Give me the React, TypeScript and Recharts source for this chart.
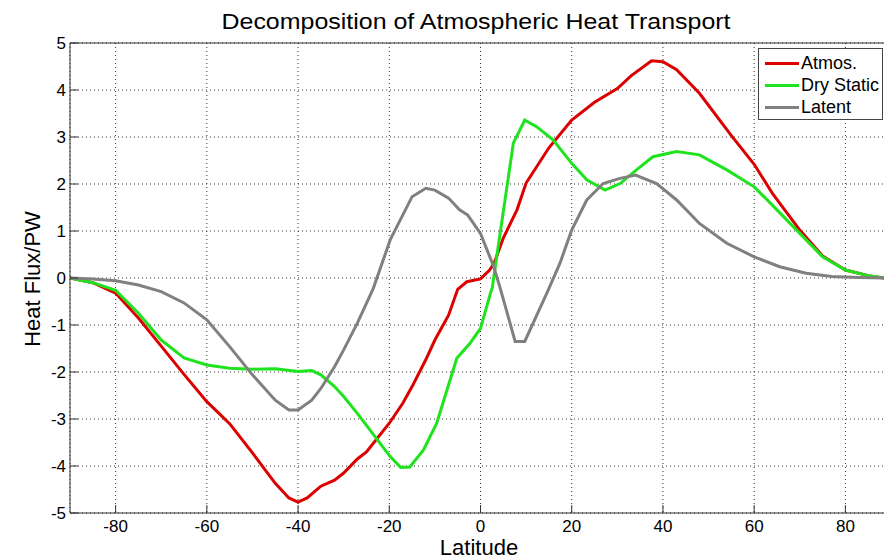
import { LineChart, Line, XAxis, YAxis, CartesianGrid, Legend, ReferenceLine } from 'recharts';

const LAT_TICKS = [-80, -60, -40, -20, 0, 20, 40, 60, 80];
const FLUX_TICKS = [-5, -4, -3, -2, -1, 0, 1, 2, 3, 4, 5];

const atmosLat = [-90, -85, -80, -75, -70, -65, -60, -55, -50, -45, -42, -40, -38, -35, -32, -30, -27, -25, -20, -17, -15, -12, -10, -7, -5, -3, 0, 2, 3, 5, 8, 10, 15, 20, 25, 30, 33, 37.5, 40, 43, 48, 55, 60, 64, 70, 75, 80, 85, 88.5];
const atmosFlux = [0, -0.1, -0.32, -0.85, -1.45, -2.05, -2.63, -3.1, -3.72, -4.37, -4.68, -4.77, -4.68, -4.43, -4.3, -4.15, -3.85, -3.7, -3.09, -2.66, -2.31, -1.74, -1.32, -0.79, -0.24, -0.08, -0.02, 0.17, 0.32, 0.85, 1.45, 2.02, 2.77, 3.36, 3.74, 4.03, 4.3, 4.62, 4.6, 4.43, 3.93, 3.03, 2.42, 1.8, 1.02, 0.47, 0.17, 0.05, 0];

const dryLat = [-90, -85, -80, -75, -70, -65, -60, -55, -50, -45, -40, -37, -35, -32, -30, -27, -22, -19.8, -17.5, -15.5, -12.5, -9.6, -5.2, -2.3, 0, 2.2, 2.6, 3.7, 7.2, 9.7, 12.3, 15.9, 20, 23.3, 27.3, 30.6, 34.2, 37.8, 43, 48, 54, 60, 65, 70, 75, 80, 85, 88.5];
const dryFlux = [0, -0.1, -0.26, -0.75, -1.32, -1.7, -1.85, -1.92, -1.94, -1.93, -1.99, -1.97, -2.06, -2.31, -2.52, -2.88, -3.52, -3.8, -4.03, -4.02, -3.66, -3.09, -1.71, -1.39, -1.07, -0.32, -0.2, 0.55, 2.87, 3.36, 3.22, 2.94, 2.44, 2.09, 1.87, 2.01, 2.3, 2.58, 2.69, 2.62, 2.3, 1.94, 1.45, 0.95, 0.45, 0.17, 0.05, 0];

const latentLat = [-90, -85, -80, -75, -70, -65, -60, -55, -50, -45, -42, -40, -37, -35, -32, -30, -27, -23.5, -19.8, -15, -12, -10, -7, -4.6, -2.8, 0, 2.9, 4.3, 7.6, 9.7, 14.5, 17.4, 20, 23.3, 26.9, 30.6, 34, 38.6, 43, 48, 54, 60, 65.6, 71.4, 77, 83, 88.5];
const latentFlux = [0, -0.02, -0.06, -0.15, -0.29, -0.53, -0.89, -1.46, -2.06, -2.6, -2.81, -2.81, -2.6, -2.35, -1.89, -1.53, -0.96, -0.22, 0.81, 1.73, 1.91, 1.87, 1.7, 1.45, 1.34, 0.95, 0.24, -0.21, -1.35, -1.35, -0.33, 0.31, 1.02, 1.66, 2.01, 2.12, 2.19, 2.01, 1.66, 1.16, 0.74, 0.45, 0.24, 0.1, 0.03, 0.01, 0];

const series = [
  { name: 'Atmos.', color: '#DC0000', data: atmosLat.map((lat, i) => ({ lat, v: atmosFlux[i] })) },
  { name: 'Dry Static', color: '#1EE31E', data: dryLat.map((lat, i) => ({ lat, v: dryFlux[i] })) },
  { name: 'Latent', color: '#808080', data: latentLat.map((lat, i) => ({ lat, v: latentFlux[i] })) },
];

const FONT = '"Liberation Sans", Arial, sans-serif';
const AXIS = '#333';

const BottomTick = ({ x, y, payload }: any) => (
  <g>
    <line x1={x} x2={x} y1={y - 6} y2={y - 14} stroke={AXIS} />
    <text x={x} y={y + 13} textAnchor="middle" fontSize={17} fontFamily={FONT} fill="#000">
      {payload.value}
    </text>
  </g>
);

const TopTick = ({ x, y }: any) => <line x1={x} x2={x} y1={y} y2={y + 8} stroke={AXIS} />;

const LeftTick = ({ x, y, payload }: any) => (
  <g>
    <line x1={x + 4} x2={x + 12} y1={y} y2={y} stroke={AXIS} />
    <text x={x} y={y + 6} textAnchor="end" fontSize={17} fontFamily={FONT} fill="#000">
      {payload.value}
    </text>
  </g>
);

const LegendBox = () => (
  <div
    style={{
      width: 125,
      height: 72,
      border: '1px solid #444',
      background: '#fff',
      boxSizing: 'border-box',
      paddingTop: 3,
      fontFamily: FONT,
      fontSize: 18,
      lineHeight: '22px',
    }}
  >
    {series.map((s) => (
      <div key={s.name} style={{ display: 'flex', alignItems: 'center', height: 22, whiteSpace: 'nowrap' }}>
        <div style={{ width: 34, height: 3, background: s.color, marginLeft: 6, marginRight: 2 }} />
        <span style={{ color: '#000' }}>{s.name}</span>
      </div>
    ))}
  </div>
);

export default function App() {
  return (
    <div style={{ position: 'fixed', left: 0, top: 0, width: 884, height: 560, overflow: 'hidden', background: '#fff' }}>
      <LineChart width={900} height={560} margin={{ top: 43, right: 9, left: 0, bottom: 0 }}>
        <CartesianGrid stroke="#333" strokeDasharray="1 3" />
        <XAxis
          dataKey="lat"
          type="number"
          domain={[-90, 90]}
          ticks={LAT_TICKS}
          height={47}
          tickSize={0}
          tickMargin={6}
          tickLine={false}
          axisLine={{ stroke: AXIS }}
          tick={<BottomTick />}
          allowDataOverflow
        />
        <XAxis
          xAxisId="top"
          orientation="top"
          type="number"
          domain={[-90, 90]}
          ticks={LAT_TICKS}
          height={0}
          tickSize={0}
          tickMargin={0}
          tickLine={false}
          axisLine={{ stroke: AXIS }}
          tick={<TopTick />}
          allowDataOverflow
        />
        <YAxis
          type="number"
          domain={[-5, 5]}
          ticks={FLUX_TICKS}
          width={70}
          tickSize={0}
          tickMargin={4}
          tickLine={false}
          axisLine={{ stroke: AXIS }}
          tick={<LeftTick />}
          interval={0}
          allowDataOverflow
        />
        <ReferenceLine y={5} stroke={AXIS} />
        {series.map((s) => (
          <Line
            key={s.name}
            data={s.data}
            dataKey="v"
            name={s.name}
            type="linear"
            stroke={s.color}
            strokeWidth={3}
            dot={false}
            isAnimationActive={false}
          />
        ))}
        <Legend
          layout="vertical"
          align="center"
          verticalAlign="middle"
          content={<LegendBox />}
          wrapperStyle={{ left: 758, top: 48, width: 125 }}
        />
      </LineChart>
      <svg width={884} height={560} style={{ position: 'absolute', left: 0, top: 0, pointerEvents: 'none' }}>
        <text x={476} y={29} textAnchor="middle" fontSize={22} fontFamily={FONT} textLength={509} lengthAdjust="spacingAndGlyphs">
          Decomposition of Atmospheric Heat Transport
        </text>
        <text x={479} y={555} textAnchor="middle" fontSize={22} fontFamily={FONT}>
          Latitude
        </text>
        <text x={40} y={279} textAnchor="middle" fontSize={22} fontFamily={FONT} transform="rotate(-90 40 279)">
          Heat Flux/PW
        </text>
      </svg>
    </div>
  );
}
